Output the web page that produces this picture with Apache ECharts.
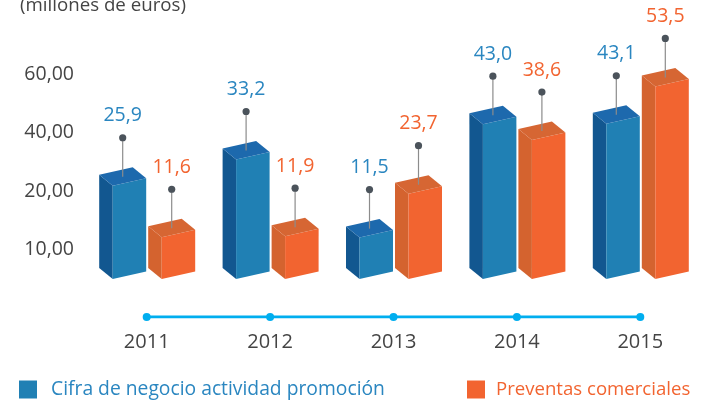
<!DOCTYPE html>
<html>
<head>
<meta charset="utf-8">
<script src="https://cdn.jsdelivr.net/npm/echarts@6/dist/echarts.min.js"></script>
<style>
  html, body { margin: 0; padding: 0; background: #fff; }
  #chart { width: 702px; height: 402px; }
</style>
</head>
<body>
<div id="chart"></div>
<script>
// datos (millones de euros)
var years = ["2011", "2012", "2013", "2014", "2015"];
var cifraNegocio = [25.9, 33.2, 11.5, 43.0, 43.1];
var preventas = [11.6, 11.9, 23.7, 38.6, 53.5];
var yLabels = ["10,00", "20,00", "40,00", "60,00"];
var timeline = [0, 0, 0, 0, 0];

var FONT = "'Open Sans', 'Noto Sans', sans-serif";

function fmt(v) {
  return v.toFixed(1).replace(".", ",");
}

// barra pseudo 3D: cara lateral, frontal y superior + etiqueta con pin
function barRenderer(offset, colors, textColor) {
  return function (params, api) {
    var i = api.value(0);
    var v = api.value(1);
    var base = api.coord([i, 0]);
    var top = api.coord([i, v]);
    var fx = base[0] + offset;
    var yb = base[1];
    var yt = top[1];
    var fw = 33.5, sw = 13.5, fs = 7.5, ss = 11;
    var dotX = fx + 10;
    var dotY = yt - 48;
    return {
      type: "group",
      children: [
        {
          type: "polygon",
          shape: { points: [[fx - sw, yb - ss], [fx, yb], [fx, yt], [fx - sw, yt - ss]] },
          style: { fill: colors.side }
        },
        {
          type: "polygon",
          shape: { points: [[fx, yb], [fx + fw, yb - fs], [fx + fw, yt - fs], [fx, yt]] },
          style: { fill: colors.front }
        },
        {
          type: "polygon",
          shape: { points: [[fx, yt], [fx + fw, yt - fs], [fx + fw - sw, yt - fs - ss], [fx - sw, yt - ss]] },
          style: { fill: colors.top }
        },
        {
          type: "line",
          shape: { x1: dotX, y1: dotY, x2: dotX, y2: yt - 9 },
          style: { stroke: "#8c8c8c", lineWidth: 1.2 }
        },
        {
          type: "circle",
          shape: { cx: dotX, cy: dotY, r: 3.6 },
          style: { fill: "#4b535b" }
        },
        {
          type: "text",
          style: {
            text: fmt(v),
            x: dotX,
            y: dotY - 22,
            fill: textColor,
            fontSize: 19.5,
            fontFamily: FONT,
            align: "center",
            verticalAlign: "middle"
          }
        }
      ]
    };
  };
}

var chart = echarts.init(document.getElementById("chart"));

var option = {
  animation: false,
  title: {
    text: "(millones de euros)",
    left: 15,
    top: -9,
    textStyle: { color: "#444", fontSize: 18.7, fontWeight: "normal", fontFamily: FONT }
  },
  legend: [
    {
      data: [{ name: "Cifra de negocio actividad promoción", icon: "rect" }],
      left: 19,
      top: 380,
      padding: 0,
      itemWidth: 18,
      itemHeight: 18,
      textStyle: { color: "#2a86c0", fontSize: 19.3, fontFamily: FONT, padding: [0, 0, 0, 9] }
    },
    {
      data: [{ name: "Preventas comerciales", icon: "rect" }],
      left: 467,
      top: 380,
      padding: 0,
      itemWidth: 18,
      itemHeight: 18,
      textStyle: { color: "#f26430", fontSize: 18.6, fontFamily: FONT, padding: [0, 0, 0, 6] }
    }
  ],
  grid: [
    { left: 85, width: 628, top: 45, bottom: 123 },
    { left: 85, width: 628, top: 316, height: 1 }
  ],
  xAxis: [
    {
      type: "category",
      gridIndex: 0,
      data: years,
      show: false
    },
    {
      type: "category",
      gridIndex: 1,
      data: years,
      axisLine: { show: false },
      axisTick: { show: false },
      axisLabel: { margin: 15, color: "#444", fontSize: 20, fontFamily: FONT }
    }
  ],
  yAxis: [
    { type: "value", gridIndex: 0, min: 0, max: 65, show: false },
    {
      type: "category",
      gridIndex: 0,
      position: "left",
      data: yLabels,
      axisLine: { show: false },
      axisTick: { show: false },
      splitLine: { show: false },
      axisLabel: { margin: 11, color: "#444", fontSize: 19.5, fontFamily: FONT }
    },
    { type: "value", gridIndex: 1, min: 0, max: 1, show: false }
  ],
  series: [
    {
      name: "Cifra de negocio actividad promoción",
      type: "custom",
      xAxisIndex: 0,
      yAxisIndex: 0,
      itemStyle: { color: "#2080b4" },
      encode: { x: 0, y: 1 },
      data: cifraNegocio.map(function (v, i) { return [i, v]; }),
      renderItem: barRenderer(-34, { front: "#2080b4", side: "#125790", top: "#1d69ad" }, "#2a86c0")
    },
    {
      name: "Preventas comerciales",
      type: "custom",
      xAxisIndex: 0,
      yAxisIndex: 0,
      itemStyle: { color: "#f26430" },
      encode: { x: 0, y: 1 },
      data: preventas.map(function (v, i) { return [i, v]; }),
      renderItem: barRenderer(15, { front: "#f26430", side: "#d4632f", top: "#d66633" }, "#f26430")
    },
    {
      type: "line",
      xAxisIndex: 1,
      yAxisIndex: 2,
      data: timeline,
      symbol: "circle",
      symbolSize: 8,
      lineStyle: { color: "#00aeef", width: 3 },
      itemStyle: { color: "#00aeef" },
      silent: true
    }
  ]
};

chart.setOption(option);
</script>
</body>
</html>
